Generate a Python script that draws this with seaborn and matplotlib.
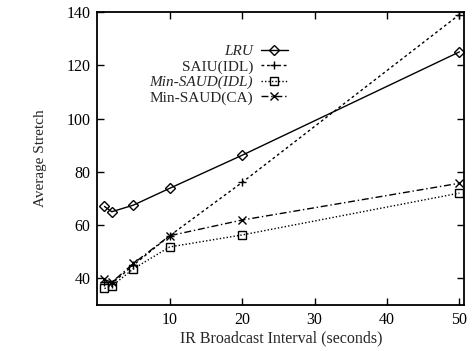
import matplotlib
matplotlib.use("Agg")
import matplotlib.pyplot as plt
import seaborn as sns
import pandas as pd

intervals = [1, 2, 5, 10, 20, 50]
lru = [67.0, 65.0, 67.5, 73.8, 86.2, 125.0]
saiu_idl = [38.5, 38.0, 45.0, 56.0, 76.0, 139.0]
min_saud_idl = [36.2, 37.1, 43.6, 51.8, 56.3, 72.0]
min_saud_ca = [39.6, 38.5, 45.6, 56.0, 61.9, 75.7]

series = ["LRU", "SAIU(IDL)", "Min-SAUD(IDL)", "Min-SAUD(CA)"]
values = [lru, saiu_idl, min_saud_idl, min_saud_ca]
markers = ["D", "+", "s", "x"]
dashes = [(None, None), (2, 2), (1, 1.5), (5, 2, 1, 2)]
label_styles = ["italic", "normal", "italic", "normal"]

sns.set_theme(style="ticks")
plt.rcParams["font.family"] = ["Liberation Serif", "DejaVu Serif"]

fig = plt.figure(figsize=(4.72, 3.51), dpi=100)
ax = fig.add_axes([0.206, 0.131, 0.778, 0.835])

for name, vals, m, d in zip(series, values, markers, dashes):
    df = pd.DataFrame({"x": intervals, "y": vals})
    sns.lineplot(data=df, x="x", y="y", ax=ax, color="black", lw=1.0,
                 marker=m, markersize=5 if m == "D" else 6,
                 markerfacecolor="none" if m in "sD" else "black",
                 markeredgecolor="black", markeredgewidth=1.0,
                 label=name)
    ln = ax.lines[-1]
    if d[0] is not None:
        ln.set_dashes(d)

ax.set_xlim(0, 50.7)
ax.set_ylim(30, 140)
ax.set_xticks([10, 20, 30, 40, 50])
ax.set_yticks([40, 60, 80, 100, 120, 140])
ax.tick_params(direction="in", top=True, right=True, length=5, width=1,
               labelsize=11.5, colors="black", pad=5)
for s in ax.spines.values():
    s.set_linewidth(1.3)
    s.set_color("black")

ax.set_xlabel("IR Broadcast Interval (seconds)", fontsize=11.5, labelpad=2)
ax.set_ylabel("Average Stretch", fontsize=11, labelpad=14)

leg = ax.legend(loc="upper right", bbox_to_anchor=(0.52, 0.89), frameon=False,
                markerfirst=False, fontsize=11, handlelength=1.8,
                labelspacing=0.12, handletextpad=0.5, borderaxespad=0,
                borderpad=0)
for t, st in zip(leg.get_texts(), label_styles):
    t.set_fontstyle(st)
    t.set_ha("right")
leg._legend_box.align = "right"
for vp in leg._legend_handle_box.get_children():
    vp.align = "right"

fig.savefig("out.png", dpi=100)
